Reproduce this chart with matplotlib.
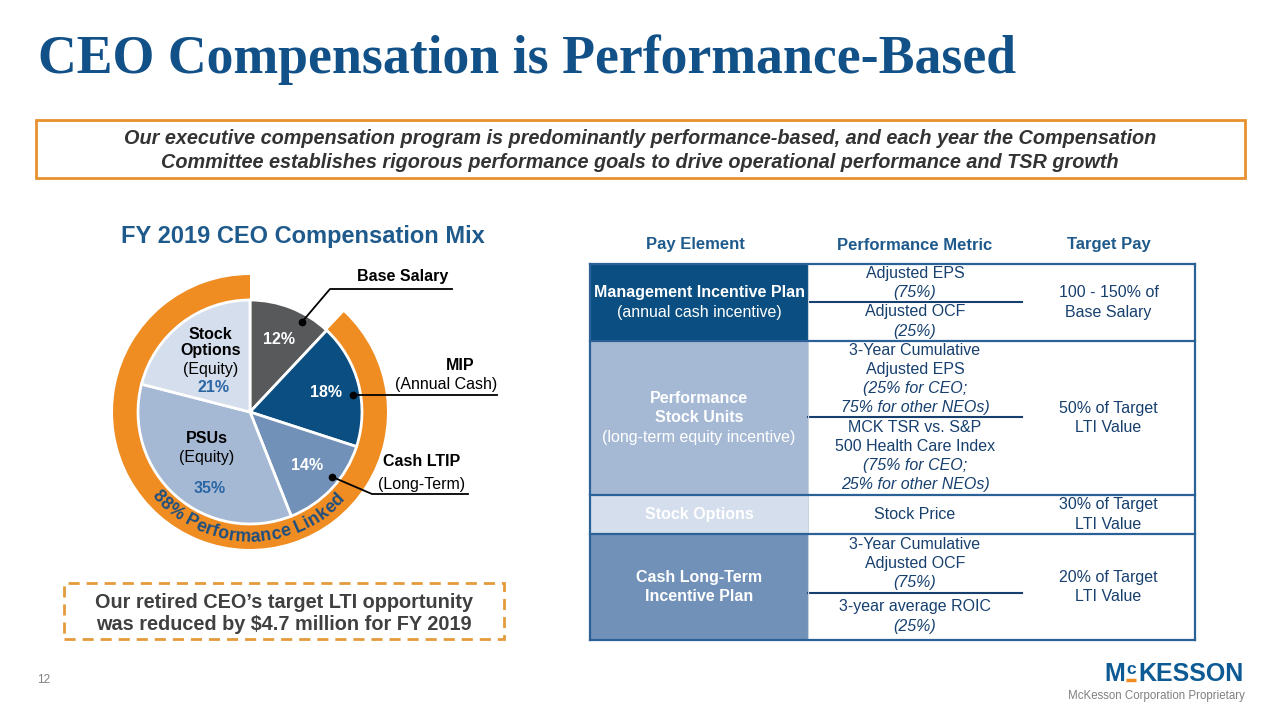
"""CEO compensation slide: pay mix pie plus pay element table."""

import numpy as np
import matplotlib.pyplot as plt
from matplotlib.patches import Rectangle

plt.rcParams['font.family'] = ['Liberation Sans', 'DejaVu Sans']

# Pie data (share of FY 2019 target pay)
slice_names = ["Base Salary", "MIP", "Cash LTIP", "PSUs", "Stock Options"]
slice_pcts = [12, 18, 14, 35, 21]
slice_colors = ["#58595b", "#0b4f82", "#7191b8", "#a6b9d4", "#d4deec"]
ring_share = [12, 88]  # fixed pay vs performance linked
ring_text = "88% Performance Linked"

# Table data
table_header = ["Pay Element", "Performance Metric", "Target Pay"]
pay_elements = [
    [("Management Incentive Plan", "bold"), ("(annual cash incentive)", "normal")],
    [("Performance", "bold"), ("Stock Units", "bold"),
     ("(long-term equity incentive)", "normal")],
    [("Stock Options", "bold")],
    [("Cash Long-Term", "bold"), ("Incentive Plan", "bold")],
]
pay_fills = ["#0b4f82", "#a6b9d4", "#d4deec", "#7191b8"]
metrics = [
    [["Adjusted EPS", "(75%)"], ["Adjusted OCF", "(25%)"]],
    [["3-Year Cumulative", "Adjusted EPS", "(25% for CEO;", "75% for other NEOs)"],
     ["MCK TSR vs. S&P", "500 Health Care Index", "(75% for CEO;", "25% for other NEOs)"]],
    [["Stock Price"]],
    [["3-Year Cumulative", "Adjusted OCF", "(75%)"], ["3-year average ROIC", "(25%)"]],
]
target_pay = [
    ["100 - 150% of", "Base Salary"],
    ["50% of Target", "LTI Value"],
    ["30% of Target", "LTI Value"],
    ["20% of Target", "LTI Value"],
]

# Colours
ORANGE = "#ef8c22"
NAVY = "#17406e"
BLUE = "#1f5a8c"
TITLE = "#115188"
BORDER = "#2a6297"
LOGO = "#0d5a94"

# Layout (pixel positions, y measured from the top)
PIE_C = (250, 412)
PIE_R = 112
row_edges = [264, 341, 495, 534, 640]
split_y = [[302], [417], [], [593]]
col_edges = [590, 808, 1022, 1195]
LINE_H = 19.3

# Arial bold advance widths (em) for the curved label
char_w = {'8': .556, '%': .889, ' ': .278, 'P': .667, 'e': .556, 'r': .389,
          'f': .333, 'o': .611, 'm': .889, 'a': .556, 'n': .611, 'c': .556,
          'L': .611, 'i': .278, 'k': .556, 'd': .611}


def py(y):
    """Top-down pixel y to axes y."""
    return 720 - y


def arc_text(ax, text, center, radius, mid_deg, fontsize, **kw):
    """Write text along a circle, letters upright on the lower arc."""
    em = fontsize * 100 / 72
    widths = [char_w.get(c, .556) * em for c in text]
    theta = np.deg2rad(mid_deg) - sum(widths) / radius / 2
    for c, wc in zip(text, widths):
        a = theta + wc / radius / 2
        x = center[0] + radius * np.cos(a)
        y = center[1] + radius * np.sin(a)
        ax.text(x, y, c, rotation=np.rad2deg(a) + 90, rotation_mode='anchor',
                ha='center', va='center', fontsize=fontsize, **kw)
        theta += wc / radius


fig = plt.figure(figsize=(12.8, 7.2), dpi=100)
ax = fig.add_axes([0, 0, 1, 1])

# Title and headline box
ax.text(38, py(60), "CEO Compensation is Performance-Based", family="Liberation Serif",
        fontsize=38.7, fontweight="bold", color=TITLE, va="center")
ax.add_patch(Rectangle((36, py(178)), 1209, 58, fill=False, edgecolor="#e8912f", lw=2))
headline = ["Our executive compensation program is predominantly performance-based, and each year the Compensation",
            "Committee establishes rigorous performance goals to drive operational performance and TSR growth"]
for i, line in enumerate(headline):
    ax.text(640, py(138 + 24 * i), line, ha="center", va="center", fontsize=14.3,
            fontweight="bold", style="italic", color="#333333")

# Pie
ax.text(303, py(236), "FY 2019 CEO Compensation Mix", ha="center", va="center",
        fontsize=17, fontweight="bold", color=BLUE)
center = (PIE_C[0], py(PIE_C[1]))
ax.pie(ring_share, colors=["none", ORANGE], startangle=90, counterclock=False,
       center=center, radius=PIE_R + 25, wedgeprops=dict(width=25, linewidth=0))
wedges, _ = ax.pie(slice_pcts, colors=slice_colors, startangle=90, counterclock=False,
                   center=center, radius=PIE_R,
                   wedgeprops=dict(edgecolor="white", linewidth=2))
mid_deg = [(w.theta1 + w.theta2) / 2 for w in wedges]
arc_text(ax, ring_text, center, PIE_R + 13, 269, 12.8, fontweight="bold", color="#1d4f80")


def polar(deg, r):
    return center[0] + r * np.cos(np.deg2rad(deg)), center[1] + r * np.sin(np.deg2rad(deg))


# white percentages in the three darker slices
for k in range(3):
    x, y = polar(mid_deg[k], PIE_R * 0.7)
    ax.text(x, y, f"{slice_pcts[k]}%", ha="center", va="center", fontsize=11.5,
            fontweight="bold", color="white")

# inside labels for the two equity slices
inside = {3: [("PSUs", "bold", -22), ("(Equity)", "normal", -3)],
          4: [("Stock", "bold", -26), ("Options", "bold", -10), ("(Equity)", "normal", 9)]}
pct_off = {3: 28, 4: 27}
for k, lines in inside.items():
    x, y = polar(mid_deg[k], PIE_R * 0.58)
    for s, wt, dy in lines:
        ax.text(x, y - dy, s, ha="center", va="center", fontsize=11.5, fontweight=wt,
                color="black")
    ax.text(x + 3, y - pct_off[k], f"{slice_pcts[k]}%", ha="center", va="center",
            fontsize=11.5, fontweight="bold", color="#2a65a4")

# callouts: anchor angle, elbow, end of underline, text lines
callouts = [
    (60, (330, 289), (452, 289), [("Base Salary", "bold", 403, 276)]),
    (9.4, (355, 395), (497, 395), [("MIP", "bold", 460, 365), ("(Annual Cash)", "normal", 446, 384)]),
    (-38.4, (372, 494), (468, 494), [("Cash LTIP", "bold", 422, 462), ("(Long-Term)", "normal", 422, 484)]),
]
for deg, elbow, end, lines in callouts:
    dx, dy = polar(deg, 104)
    ax.plot([dx, elbow[0], end[0]], [dy, py(elbow[1]), py(end[1])], color="black", lw=1.3)
    ax.plot(dx, dy, "o", color="black", ms=4.5)
    for s, wt, tx, ty in lines:
        ax.text(tx, py(ty), s, ha="center", va="center", fontsize=11.5, fontweight=wt)

# LTI note
ax.add_patch(Rectangle((64, py(639)), 440, 56, fill=False, edgecolor="#e39b3b", lw=2,
                       ls=(0, (4, 2.5))))
for i, line in enumerate(["Our retired CEO\u2019s target LTI opportunity",
                          "was reduced by $4.7 million for FY 2019"]):
    ax.text(284, py(602 + 23 * i), line, ha="center", va="center", fontsize=14.3,
            fontweight="bold", color="#404040")

# Table
col_mid = [(col_edges[i] + col_edges[i + 1]) / 2 for i in range(3)]
for j, h in enumerate(table_header):
    ax.text(col_mid[j] - (4 if j == 0 else 0), py(245), h, ha="center", va="center",
            fontsize=12, fontweight="bold", color=BLUE)


def stack(x, top, bottom, lines, **kw):
    """Centre a list of (text, props) lines between two y edges."""
    yc = (top + bottom) / 2
    n = len(lines)
    for i, (s, props) in enumerate(lines):
        ax.text(x, py(yc + (i - (n - 1) / 2) * LINE_H), s, ha="center", va="center",
                fontsize=11.5, **props, **kw)


for r in range(len(pay_elements)):
    top, bottom = row_edges[r], row_edges[r + 1]
    ax.add_patch(Rectangle((col_edges[0], py(bottom)), col_edges[1] - col_edges[0],
                           bottom - top, facecolor=pay_fills[r], edgecolor="none"))
    stack(col_mid[0], top, bottom, [(s, dict(fontweight=w)) for s, w in pay_elements[r]],
          color="white")
    edges = [top] + split_y[r] + [bottom]
    for g, group in enumerate(metrics[r]):
        lines = [(s, dict(style="italic" if s.startswith("(") or s.endswith(")") else "normal"))
                 for s in group]
        stack(col_mid[1], edges[g], edges[g + 1], lines, color=NAVY)
    for s in split_y[r]:
        ax.plot([col_edges[1], col_edges[2]], [py(s)] * 2, color=NAVY, lw=1.5)
    stack(col_mid[2], top, bottom, [(s, {}) for s in target_pay[r]], color=NAVY)

ax.plot([col_edges[1]] * 2, [py(row_edges[0]), py(row_edges[-1])], color="#c9d4e3", lw=0.8)
for e in row_edges:
    ax.plot([col_edges[0], col_edges[-1]], [py(e)] * 2, color=BORDER, lw=1.6)
for x in (col_edges[0], col_edges[-1]):
    ax.plot([x, x], [py(row_edges[0]), py(row_edges[-1])], color=BORDER, lw=1.6)

# Footer and logo
ax.text(44, py(680), "12", ha="center", va="center", fontsize=8.5, color="#808080")
ax.text(1104, py(674), "M", ha="left", va="center", fontsize=18, fontweight="bold",
        color=LOGO)
ax.text(1131, py(670), "c", ha="center", va="center", fontsize=12.5, fontweight="bold",
        color=LOGO)
ax.plot([1126, 1136], [py(680)] * 2, color=ORANGE, lw=2.5, solid_capstyle="butt")
ax.text(1138, py(674), "KESSON", ha="left", va="center", fontsize=18,
        fontweight="bold", color=LOGO)
ax.text(1245, py(696), "McKesson Corporation Proprietary", ha="right", va="center",
        fontsize=8.3, color="#808080")

ax.set_xlim(0, 1280)
ax.set_ylim(0, 720)
ax.axis("off")
fig.savefig("out.png", dpi=100)
